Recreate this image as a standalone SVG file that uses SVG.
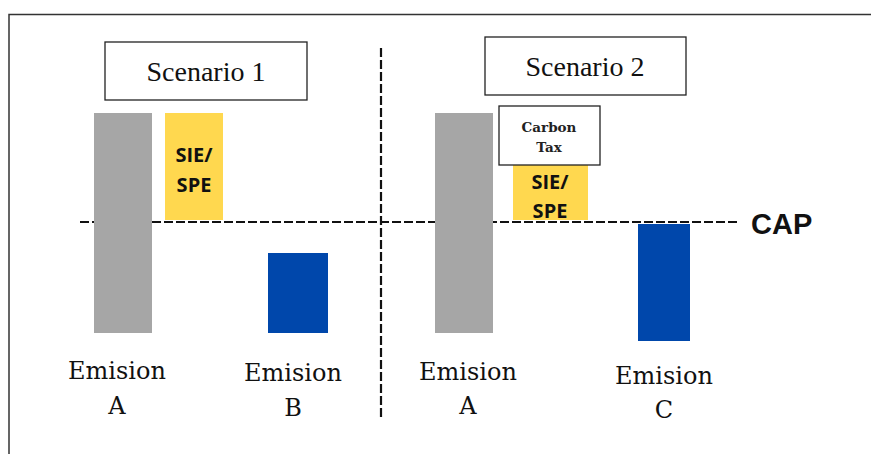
<svg xmlns="http://www.w3.org/2000/svg" width="871" height="454" viewBox="0 0 871 454">
<style>
.frame{stroke:#333;stroke-width:1.5;fill:none}
.box{fill:#fff;stroke:#222;stroke-width:1.3}
.dash{stroke:#111;stroke-width:2.2;stroke-dasharray:9 3;fill:none}
.gray{fill:#a6a6a6}
.yellow{fill:#ffd84f}
.blue{fill:#0047ab}
.title{font-family:"Liberation Serif",serif;font-size:28px;fill:#111;text-anchor:middle}
.lbl{font-family:"DejaVu Serif","Liberation Serif",serif;font-size:24px;fill:#111;text-anchor:middle}
.sie{font-family:"Open Sans","Liberation Sans",sans-serif;font-weight:bold;font-size:20px;fill:#111;text-anchor:middle}
.small{font-family:"DejaVu Serif","Liberation Serif",serif;font-size:13.5px;font-weight:600;fill:#222;text-anchor:middle}
.cap{font-family:"Liberation Sans",Arial,sans-serif;font-weight:bold;font-size:29px;fill:#111}
</style>
<rect width="871" height="454" fill="#fff"/>
<path class="frame" d="M9 454 V14.5 H871"/>
<g id="connectors">
<line class="dash" x1="381" y1="48" x2="381" y2="420"/>
<line class="dash" x1="80" y1="222" x2="738" y2="222"/>
</g>
<g id="scenario1"><rect class="box" x="105" y="42" width="202" height="58"/><text class="title" x="206" y="81">Scenario 1</text></g>
<g id="scenario2"><rect class="box" x="485" y="37" width="201" height="58"/><text class="title" x="585" y="76">Scenario 2</text></g>
<g id="barA1"><rect class="gray" x="94" y="113" width="58" height="220"/></g>
<g id="sie1"><rect class="yellow" x="165" y="113" width="58" height="107"/><text class="sie" x="194" y="162">SIE/</text><text class="sie" x="194" y="192">SPE</text></g>
<g id="barB"><rect class="blue" x="268" y="253" width="60" height="80"/></g>
<g id="barA2"><rect class="gray" x="435" y="113" width="58" height="220"/></g>
<g id="sie2"><rect class="yellow" x="513" y="165" width="75" height="55"/><text class="sie" x="550" y="189">SIE/</text><text class="sie" x="550" y="218">SPE</text></g>
<g id="carbonTax"><rect class="box" x="499" y="106" width="101" height="59"/><text class="small" x="549" y="132">Carbon</text><text class="small" x="549" y="152">Tax</text></g>
<g id="barC"><rect class="blue" x="638" y="224" width="52" height="117"/></g>
<g id="cap"><text class="cap" x="751" y="234">CAP</text></g>
<g id="labelA1"><text class="lbl" x="117" y="379">Emision</text><text class="lbl" x="117" y="414">A</text></g>
<g id="labelB"><text class="lbl" x="293" y="381">Emision</text><text class="lbl" x="293" y="416">B</text></g>
<g id="labelA2"><text class="lbl" x="468" y="380">Emision</text><text class="lbl" x="468" y="414">A</text></g>
<g id="labelC"><text class="lbl" x="664" y="384">Emision</text><text class="lbl" x="664" y="418">C</text></g>
</svg>
